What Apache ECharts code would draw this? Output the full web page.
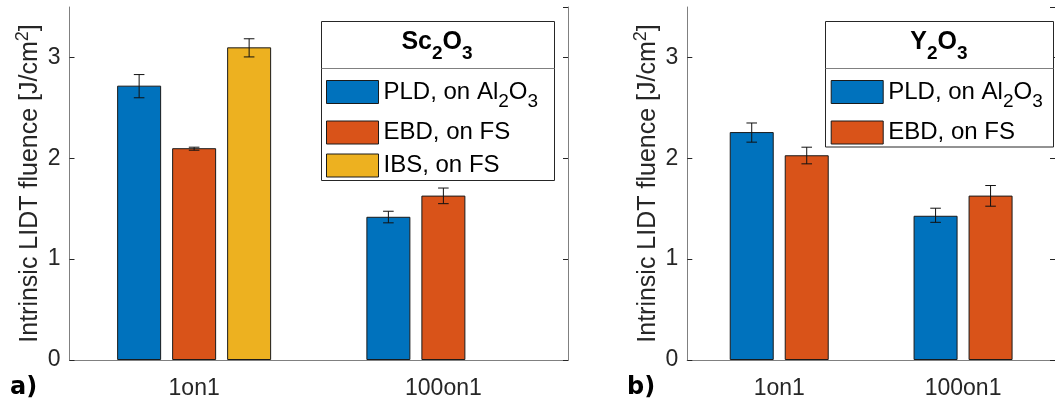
<!DOCTYPE html>
<html>
<head>
<meta charset="utf-8">
<script src="https://cdn.jsdelivr.net/npm/echarts@6/dist/echarts.min.js"></script>
<style>
html,body{margin:0;padding:0;background:#fff;}
#c{width:1055px;height:403px;}
</style>
</head>
<body>
<div id="c"></div>
<script>
// ---- data ----
var categories = ['1on1', '100on1'];
var yTicks = [0, 1, 2, 3];
// Panel a) Sc2O3
var scPLD = [2.72, 1.42];
var scPLDerr = [[2.60, 2.83], [1.36, 1.475]];
var scEBD = [2.10, 1.63];
var scEBDerr = [[2.08, 2.11], [1.55, 1.705]];
var scIBS = [3.10, null];
var scIBSerr = [[3.005, 3.185], null];
// Panel b) Y2O3
var yPLD = [2.26, 1.43];
var yPLDerr = [[2.16, 2.35], [1.365, 1.505]];
var yEBD = [2.03, 1.63];
var yEBDerr = [[1.945, 2.11], [1.525, 1.73]];

var names = ['PLD, on Al2O3', 'EBD, on FS', 'IBS, on FS'];
var colors = ['#0072BD', '#D95319', '#EDB120'];

// ---- style ----
var FONT = '"Liberation Sans", Arial, sans-serif';
var TXT = '#262626';
var BAR_W = 44;
var GAP = 0.25;

var chart = echarts.init(document.getElementById('c'), null, {renderer: 'canvas'});

function errData(arr) {
  var out = [];
  arr.forEach(function (e, i) { if (e) out.push([i, e[0], e[1]]); });
  return out;
}
function errSeries(arr, idx, n, axisIdx) {
  var offset = (idx - (n - 1) / 2) * BAR_W * (1 + GAP);
  return {
    type: 'custom', xAxisIndex: axisIdx, yAxisIndex: axisIdx, z: 5,
    silent: true,
    data: errData(arr),
    renderItem: function (params, api) {
      var c = api.value(0);
      var lo = api.coord([c, api.value(1)]);
      var hi = api.coord([c, api.value(2)]);
      var x = lo[0] + offset;
      var w = 5.3;
      var st = {stroke: '#111', lineWidth: 1};
      return {type: 'group', children: [
        {type: 'line', shape: {x1: x, y1: lo[1], x2: x, y2: hi[1]}, style: st},
        {type: 'line', shape: {x1: x - w, y1: lo[1], x2: x + w, y2: lo[1]}, style: st},
        {type: 'line', shape: {x1: x - w, y1: hi[1], x2: x + w, y2: hi[1]}, style: st}
      ]};
    }
  };
}
function barSeries(name, data, color, axisIdx) {
  return {
    name: name, type: 'bar', xAxisIndex: axisIdx, yAxisIndex: axisIdx,
    data: data, barWidth: BAR_W, barGap: (GAP * 100) + '%',
    itemStyle: {color: color, borderColor: '#1a1a1a', borderWidth: 1},
    emphasis: {disabled: true}
  };
}

var nameRich = {
  n: {fontSize: 25, fontFamily: FONT, color: TXT},
  sup: {fontSize: 18, fontFamily: FONT, color: TXT, padding: [0, 0, 14, 0]}
};
function xAxes(gi) {
  return [
    {gridIndex: gi, type: 'category', data: categories, position: 'bottom',
     axisLine: {lineStyle: {color: '#262626', width: 1}},
     axisTick: {inside: true, alignWithLabel: true, length: 5, lineStyle: {color: '#262626'}},
     axisLabel: {color: TXT, fontSize: 23, fontFamily: FONT, margin: 17}},
    {gridIndex: gi, type: 'category', data: categories, position: 'top',
     axisLine: {lineStyle: {color: '#808080', width: 1}},
     axisTick: {inside: true, alignWithLabel: true, length: 5, lineStyle: {color: '#262626'}},
     axisLabel: {show: false}}
  ];
}
function yAxes(gi) {
  return [
    {gridIndex: gi, type: 'value', min: 0, max: 3.5, interval: 1, position: 'left',
     axisLine: {show: true, lineStyle: {color: '#808080', width: 1}},
     axisTick: {show: true, inside: true, length: 5, lineStyle: {color: '#262626'}},
     splitLine: {show: false},
     axisLabel: {color: TXT, fontSize: 23, fontFamily: FONT, margin: 9, showMaxLabel: false,
       formatter: function (v) { return yTicks.indexOf(v) >= 0 ? String(v) : ''; }},
     name: '{n|Intrinsic LIDT fluence [J/cm}{sup|2}{n|]}',
     nameLocation: 'middle', nameGap: 23, nameRotate: 90,
     nameTextStyle: {rich: nameRich}},
    {gridIndex: gi, type: 'value', min: 0, max: 3.5, interval: 1, position: 'right',
     axisLine: {show: true, lineStyle: {color: '#808080', width: 1}},
     axisTick: {show: true, inside: true, length: 5, lineStyle: {color: '#262626'}},
     splitLine: {show: false},
     axisLabel: {show: false}}
  ];
}

var legendRich = {
  n: {fontSize: 24, fontFamily: FONT, color: '#000'},
  sub: {fontSize: 19, fontFamily: FONT, color: '#000', padding: [20, 0, 0, 0]}
};
function legendFmt(name) {
  if (name === names[0]) return '{n|PLD, on Al}{sub|2}{n|O}{sub|3}';
  return '{n|' + name + '}';
}
var titleRich = {
  b: {fontSize: 25, fontWeight: 'bold', fontFamily: FONT, color: '#000'},
  s: {fontSize: 19, fontWeight: 'bold', fontFamily: FONT, color: '#000', padding: [24, 0, 0, 0]}
};
var legendCommon = {
  orient: 'vertical', top: 80, z: 20, icon: 'rect',
  itemWidth: 52, itemHeight: 23, itemGap: 9, padding: 0,
  itemStyle: {borderColor: '#1a1a1a', borderWidth: 1},
  formatter: legendFmt, textStyle: {rich: legendRich}, selectedMode: false
};

var option = {
  animation: false,
  backgroundColor: '#fff',
  grid: [
    {left: 69.5, top: 7, width: 498.5, height: 353},
    {left: 687.3, top: 7, width: 380, height: 353}
  ],
  xAxis: xAxes(0).concat(xAxes(1)),
  yAxis: yAxes(0).concat(yAxes(1)),
  legend: [
    Object.assign({data: [names[0], names[1], names[2]], left: 326}, legendCommon),
    Object.assign({data: [names[0], names[1]], left: 830.7}, legendCommon)
  ],
  graphic: [
    {type: 'rect', shape: {x: 321.5, y: 21.5, width: 233, height: 159}, style: {fill: '#fff', stroke: '#262626', lineWidth: 1}, z: 10, silent: true},
    {type: 'line', shape: {x1: 321.5, y1: 68.5, x2: 554.5, y2: 68.5}, style: {stroke: '#808080', lineWidth: 1}, z: 11, silent: true},
    {type: 'text', x: 437, y: 42, style: {text: '{b|Sc}{s|2}{b|O}{s|3}', rich: titleRich, align: 'center', verticalAlign: 'middle'}, z: 12, silent: true},
    {type: 'rect', shape: {x: 825.5, y: 21.5, width: 228, height: 125.5}, style: {fill: '#fff', stroke: '#262626', lineWidth: 1}, z: 10, silent: true},
    {type: 'line', shape: {x1: 825.5, y1: 68.5, x2: 1053.5, y2: 68.5}, style: {stroke: '#808080', lineWidth: 1}, z: 11, silent: true},
    {type: 'text', x: 939, y: 42, style: {text: '{b|Y}{s|2}{b|O}{s|3}', rich: titleRich, align: 'center', verticalAlign: 'middle'}, z: 12, silent: true},
    {type: 'text', x: 10, y: 388, style: {text: 'a)', font: 'bold 24px "DejaVu Sans", sans-serif', fill: '#000', verticalAlign: 'middle'}, silent: true},
    {type: 'text', x: 627, y: 388, style: {text: 'b)', font: 'bold 24px "DejaVu Sans", sans-serif', fill: '#000', verticalAlign: 'middle'}, silent: true}
  ],
  series: [
    barSeries(names[0], scPLD, colors[0], 0),
    barSeries(names[1], scEBD, colors[1], 0),
    barSeries(names[2], scIBS, colors[2], 0),
    errSeries(scPLDerr, 0, 3, 0),
    errSeries(scEBDerr, 1, 3, 0),
    errSeries(scIBSerr, 2, 3, 0),
    barSeries(names[0], yPLD, colors[0], 2),
    barSeries(names[1], yEBD, colors[1], 2),
    errSeries(yPLDerr, 0, 2, 2),
    errSeries(yEBDerr, 1, 2, 2)
  ]
};
chart.setOption(option);
</script>
</body>
</html>
